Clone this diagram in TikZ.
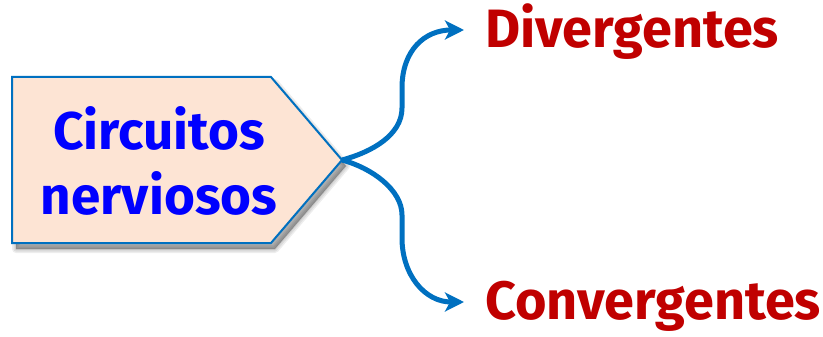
\documentclass[tikz,border=0pt]{standalone}
\usepackage{fontspec}
\setmainfont{Fira Sans}
\usetikzlibrary{arrows.meta}
\definecolor{boxfill}{RGB}{253,228,212}
\definecolor{boxline}{RGB}{0,112,192}
\definecolor{arrowcol}{RGB}{0,112,192}
\definecolor{titleblue}{RGB}{0,0,255}
\definecolor{labelred}{RGB}{192,0,0}
\tikzset{
  tagbox/.style={fill=boxfill, draw=boxline, line width=2pt, line join=miter},
  softshadow/.style={fill=black, draw=black, fill opacity=0.12, draw opacity=0.07, line join=round},
  branch/.style={draw=arrowcol, line width=5pt, -{Stealth[length=19pt,width=19pt,inset=5pt]}},
  titletext/.style={font=\bfseries\fontsize{53}{65}\selectfont, text=titleblue, align=center, inner sep=0pt},
  leaftext/.style={font=\bfseries\fontsize{54}{60}\selectfont, text=labelred, inner sep=0pt, anchor=base west}
}
\newcommand{\tagpath}{(12,77) -- (271,77) -- (342,160) -- (271,243) -- (12,243) -- cycle}
\begin{document}
\begin{tikzpicture}[x=1pt,y=-1pt]
\useasboundingbox (0,0) rectangle (823,337);
\begin{scope}[shift={(4,6)}]
  \foreach \w in {8,5,2}{
    \path[softshadow, line width=\w pt] \tagpath;
  }
\end{scope}
\path[tagbox] \tagpath;
\coordinate (tip) at (342,160);
\node[titletext] (title) at (159,161) {Circuitos\\nerviosos};
\node[leaftext] (div) at (485,48) {Divergentes};
\node[leaftext] (conv) at (485,319) {Convergentes};
\coordinate (dstart) at (464,30);
\coordinate (cstart) at (464,302);
\draw[branch] (tip) .. controls (372,152) and (402,135) .. (402,108) -- (402,88) .. controls (402,50) and (425,30) .. (dstart);
\draw[branch] (tip) .. controls (372,168) and (402,190) .. (402,215) -- (402,238) .. controls (402,275) and (425,302) .. (cstart);
\end{tikzpicture}
\end{document}
